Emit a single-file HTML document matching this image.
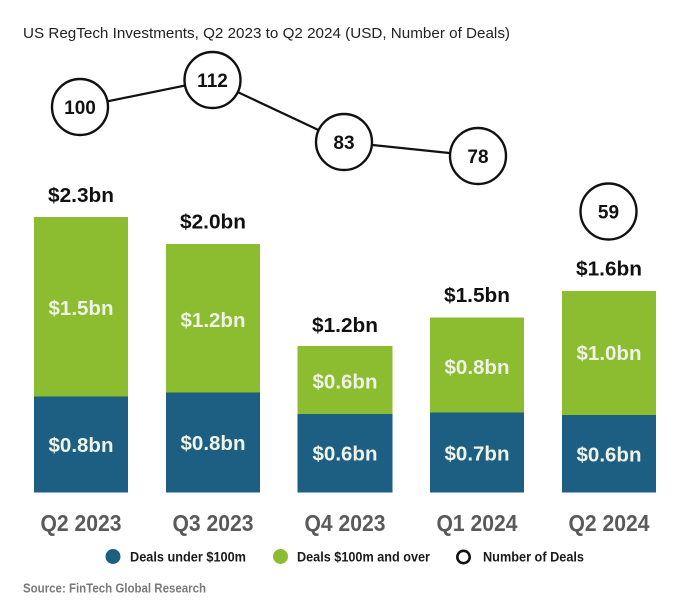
<!DOCTYPE html>
<html>
<head>
<meta charset="utf-8">
<style>
  html,body{margin:0;padding:0;background:#fff;}
  svg{display:block;}
  text{font-family:"Liberation Sans",Arial,sans-serif;}
</style>
</head>
<body>
<svg width="691" height="611" viewBox="0 0 691 611" xmlns="http://www.w3.org/2000/svg">
  <rect width="691" height="611" fill="#ffffff"/>
  <!-- Title -->
  <text x="23" y="38" font-size="15" fill="#222" textLength="487" lengthAdjust="spacingAndGlyphs">US RegTech Investments, Q2 2023 to Q2 2024 (USD, Number of Deals)</text>

  <!-- Line connecting deal counts -->
  <polyline points="80,107 212,80 344,142 478,156" fill="none" stroke="#111" stroke-width="2.2"/>

  <!-- Circles -->
  <g fill="#fff" stroke="#111" stroke-width="2.4">
    <circle cx="80" cy="107" r="28"/>
    <circle cx="212.5" cy="80" r="28"/>
    <circle cx="344" cy="142" r="28"/>
    <circle cx="478" cy="156" r="28"/>
    <circle cx="608.5" cy="211.5" r="28"/>
  </g>
  <g font-size="19" font-weight="bold" fill="#111" text-anchor="middle">
    <text x="80" y="114">100</text>
    <text x="212.5" y="87">112</text>
    <text x="344" y="149">83</text>
    <text x="478" y="163">78</text>
    <text x="608.5" y="218.5">59</text>
  </g>

  <!-- Bars -->
  <g>
    <rect x="34" y="217" width="94" height="180" fill="#8cbc2f"/>
    <rect x="34" y="396.5" width="94" height="96" fill="#1d5f83"/>

    <rect x="166" y="244" width="94" height="149" fill="#8cbc2f"/>
    <rect x="166" y="392.5" width="94" height="100" fill="#1d5f83"/>

    <rect x="297.5" y="346" width="95" height="68.5" fill="#8cbc2f"/>
    <rect x="297.5" y="414" width="95" height="78.5" fill="#1d5f83"/>

    <rect x="430" y="317.5" width="94" height="95.5" fill="#8cbc2f"/>
    <rect x="430" y="412.5" width="94" height="80" fill="#1d5f83"/>

    <rect x="562" y="291" width="94" height="124.5" fill="#8cbc2f"/>
    <rect x="562" y="415" width="94" height="77.5" fill="#1d5f83"/>
  </g>

  <!-- Totals -->
  <g font-size="20" font-weight="bold" fill="#111" text-anchor="middle">
    <text x="81" y="202" textLength="66" lengthAdjust="spacingAndGlyphs">$2.3bn</text>
    <text x="213" y="228.5" textLength="66" lengthAdjust="spacingAndGlyphs">$2.0bn</text>
    <text x="345" y="332" textLength="66" lengthAdjust="spacingAndGlyphs">$1.2bn</text>
    <text x="477" y="302" textLength="66" lengthAdjust="spacingAndGlyphs">$1.5bn</text>
    <text x="609" y="275.5" textLength="66" lengthAdjust="spacingAndGlyphs">$1.6bn</text>
  </g>

  <!-- Inner labels -->
  <g font-size="20" font-weight="bold" fill="#eef3e6" text-anchor="middle">
    <text x="81" y="315" textLength="65" lengthAdjust="spacingAndGlyphs">$1.5bn</text>
    <text x="81" y="452" textLength="65" lengthAdjust="spacingAndGlyphs">$0.8bn</text>
    <text x="213" y="327" textLength="65" lengthAdjust="spacingAndGlyphs">$1.2bn</text>
    <text x="213" y="450" textLength="65" lengthAdjust="spacingAndGlyphs">$0.8bn</text>
    <text x="345" y="388.5" textLength="65" lengthAdjust="spacingAndGlyphs">$0.6bn</text>
    <text x="345" y="460.5" textLength="65" lengthAdjust="spacingAndGlyphs">$0.6bn</text>
    <text x="477" y="374" textLength="65" lengthAdjust="spacingAndGlyphs">$0.8bn</text>
    <text x="477" y="460.5" textLength="65" lengthAdjust="spacingAndGlyphs">$0.7bn</text>
    <text x="609" y="360" textLength="65" lengthAdjust="spacingAndGlyphs">$1.0bn</text>
    <text x="609" y="461.5" textLength="65" lengthAdjust="spacingAndGlyphs">$0.6bn</text>
  </g>

  <!-- Category labels -->
  <g font-size="23" font-weight="bold" fill="#5a5a5a" text-anchor="middle">
    <text x="81" y="531" textLength="81" lengthAdjust="spacingAndGlyphs">Q2 2023</text>
    <text x="213" y="531" textLength="81" lengthAdjust="spacingAndGlyphs">Q3 2023</text>
    <text x="345" y="531" textLength="81" lengthAdjust="spacingAndGlyphs">Q4 2023</text>
    <text x="477" y="531" textLength="81" lengthAdjust="spacingAndGlyphs">Q1 2024</text>
    <text x="609" y="531" textLength="81" lengthAdjust="spacingAndGlyphs">Q2 2024</text>
  </g>

  <!-- Legend -->
  <circle cx="113" cy="556.5" r="7.5" fill="#1d5f83"/>
  <circle cx="280.5" cy="556.5" r="7.5" fill="#8cbc2f"/>
  <circle cx="463.5" cy="557" r="6.2" fill="#fff" stroke="#111" stroke-width="2.6"/>
  <g font-size="13.5" font-weight="bold" fill="#1a1a1a">
    <text x="130" y="561.5" textLength="116" lengthAdjust="spacingAndGlyphs">Deals under $100m</text>
    <text x="297" y="561.5" textLength="133" lengthAdjust="spacingAndGlyphs">Deals $100m and over</text>
    <text x="483" y="561.5" textLength="101" lengthAdjust="spacingAndGlyphs">Number of Deals</text>
  </g>

  <!-- Source -->
  <text x="23" y="592.5" font-size="13" font-weight="bold" fill="#7a7a7a" textLength="183" lengthAdjust="spacingAndGlyphs">Source: FinTech Global Research</text>
</svg>
</body>
</html>
